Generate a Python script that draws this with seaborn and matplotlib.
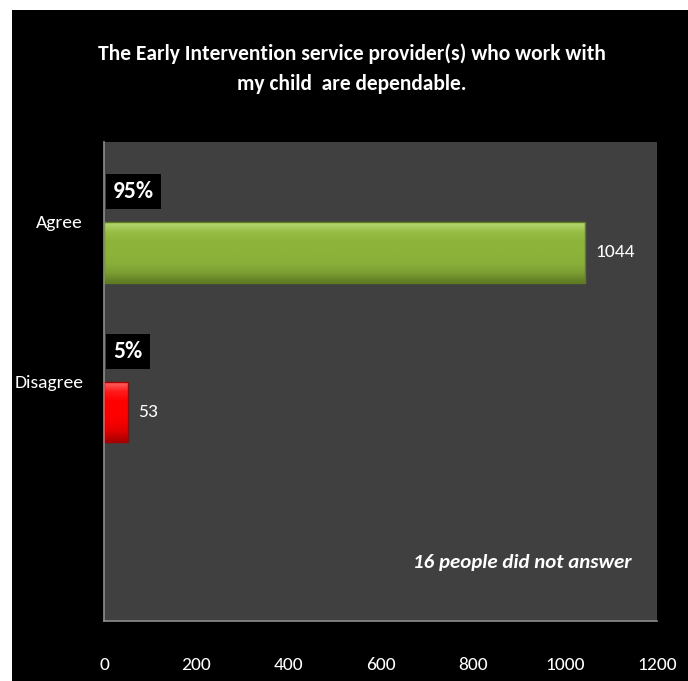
import matplotlib
matplotlib.use("Agg")
import matplotlib.pyplot as plt
import matplotlib.patches as patches
from matplotlib.colors import LinearSegmentedColormap
import numpy as np
import pandas as pd
import seaborn as sns

categories = ["Agree", "Disagree", " "]
counts = [1044, 53, 0]
percents = ["95%", "5%", ""]
no_answer = 16
title = "The Early Intervention service provider(s) who work with\nmy child  are dependable."

# top highlight -> body -> bottom shade, to mimic the bevelled Excel bars
bar_shades = {
    "Agree": ["#b8d870", "#96bc44", "#8db33b", "#8db33b", "#8ab039", "#7d9f33", "#5f7b24"],
    "Disagree": ["#ff6a6a", "#ff1a1a", "#ff0000", "#ff0000", "#f80000", "#e00000", "#a80000"],
}

sns.set_style("dark")
plt.rcParams["font.family"] = ["Carlito", "DejaVu Sans"]

df = pd.DataFrame({
    "category": categories * 2,
    "series": ["pct"] * len(categories) + ["count"] * len(categories),
    "value": [0] * len(categories) + counts,
})

fig = plt.figure(figsize=(6.88, 6.81), dpi=100, facecolor="white")
# black chart area with a thin white margin on the top/left
fig.patches.append(patches.Rectangle((12 / 688, 0), 1 - 12 / 688, 1 - 10 / 681,
                                     transform=fig.transFigure, facecolor="black",
                                     edgecolor="none", zorder=-10))

ax = fig.add_axes([104 / 688, 60 / 681, 553 / 688, 479 / 681])
sns.barplot(data=df, y="category", x="value", hue="series", hue_order=["pct", "count"],
            order=categories, orient="h", width=0.76, dodge=True, legend=False,
            palette=["#404040", "#8db33b"], ax=ax)

# the first series only carries the percentage labels
for bar in ax.containers[0]:
    bar.set_visible(False)

# fill the count bars with a vertical gradient
for bar, cat in zip(ax.containers[1], categories):
    if cat not in bar_shades:
        bar.set_visible(False)
        continue
    cmap = LinearSegmentedColormap.from_list(cat, bar_shades[cat])
    x0, y0 = bar.get_x(), bar.get_y()
    x1, y1 = x0 + bar.get_width(), y0 + bar.get_height()
    img = ax.imshow(np.linspace(0, 1, 64).reshape(-1, 1), cmap=cmap, aspect="auto",
                    extent=(x0, x1, y1, y0), origin="upper", zorder=2)
    img.set_clip_path(bar)
    bar.set_facecolor("none")
    bar.set_edgecolor(bar_shades[cat][-1])
    bar.set_linewidth(1.0)
    bar.set_zorder(3)

ax.set_facecolor("#404040")
ax.set_xlim(0, 1200)
ax.set_xticks(range(0, 1201, 200))
ax.set_ylim(2.5, -0.5)
ax.set_xlabel("")
ax.set_ylabel("")
ax.grid(False)
ax.tick_params(axis="x", colors="white", labelsize=14, length=0, pad=26)
ax.tick_params(axis="y", colors="white", labelsize=14, length=0, pad=15)
for side in ["top", "right"]:
    ax.spines[side].set_visible(False)
for side in ["left", "bottom"]:
    ax.spines[side].set_visible(True)
    ax.spines[side].set_color("#8c8c8c")
    ax.spines[side].set_linewidth(1.2)
    ax.spines[side].set_zorder(5)

# labels: count to the right of each bar, percentage in a black box above it
for i, (cat, n, p) in enumerate(zip(categories, counts, percents)):
    if not p:
        continue
    ax.text(n + 22, i + 0.19, str(n), color="white", fontsize=14,
            va="center", ha="left")
    ax.text(20, i - 0.19, p, color="white", fontsize=17, fontweight="bold",
            va="center", ha="left",
            bbox=dict(boxstyle="square,pad=0.3", facecolor="black", edgecolor="none"))

ax.text(0.955, 0.122, f"{no_answer} people did not answer", transform=ax.transAxes,
        color="white", fontsize=15, fontweight="bold", fontstyle="italic",
        ha="right", va="center")

fig.text(352 / 688, 1 - 69 / 681, title, color="white", fontsize=15.5, fontweight="bold",
         ha="center", va="center", linespacing=1.65)

fig.savefig("out.png", dpi=100, facecolor="white")
